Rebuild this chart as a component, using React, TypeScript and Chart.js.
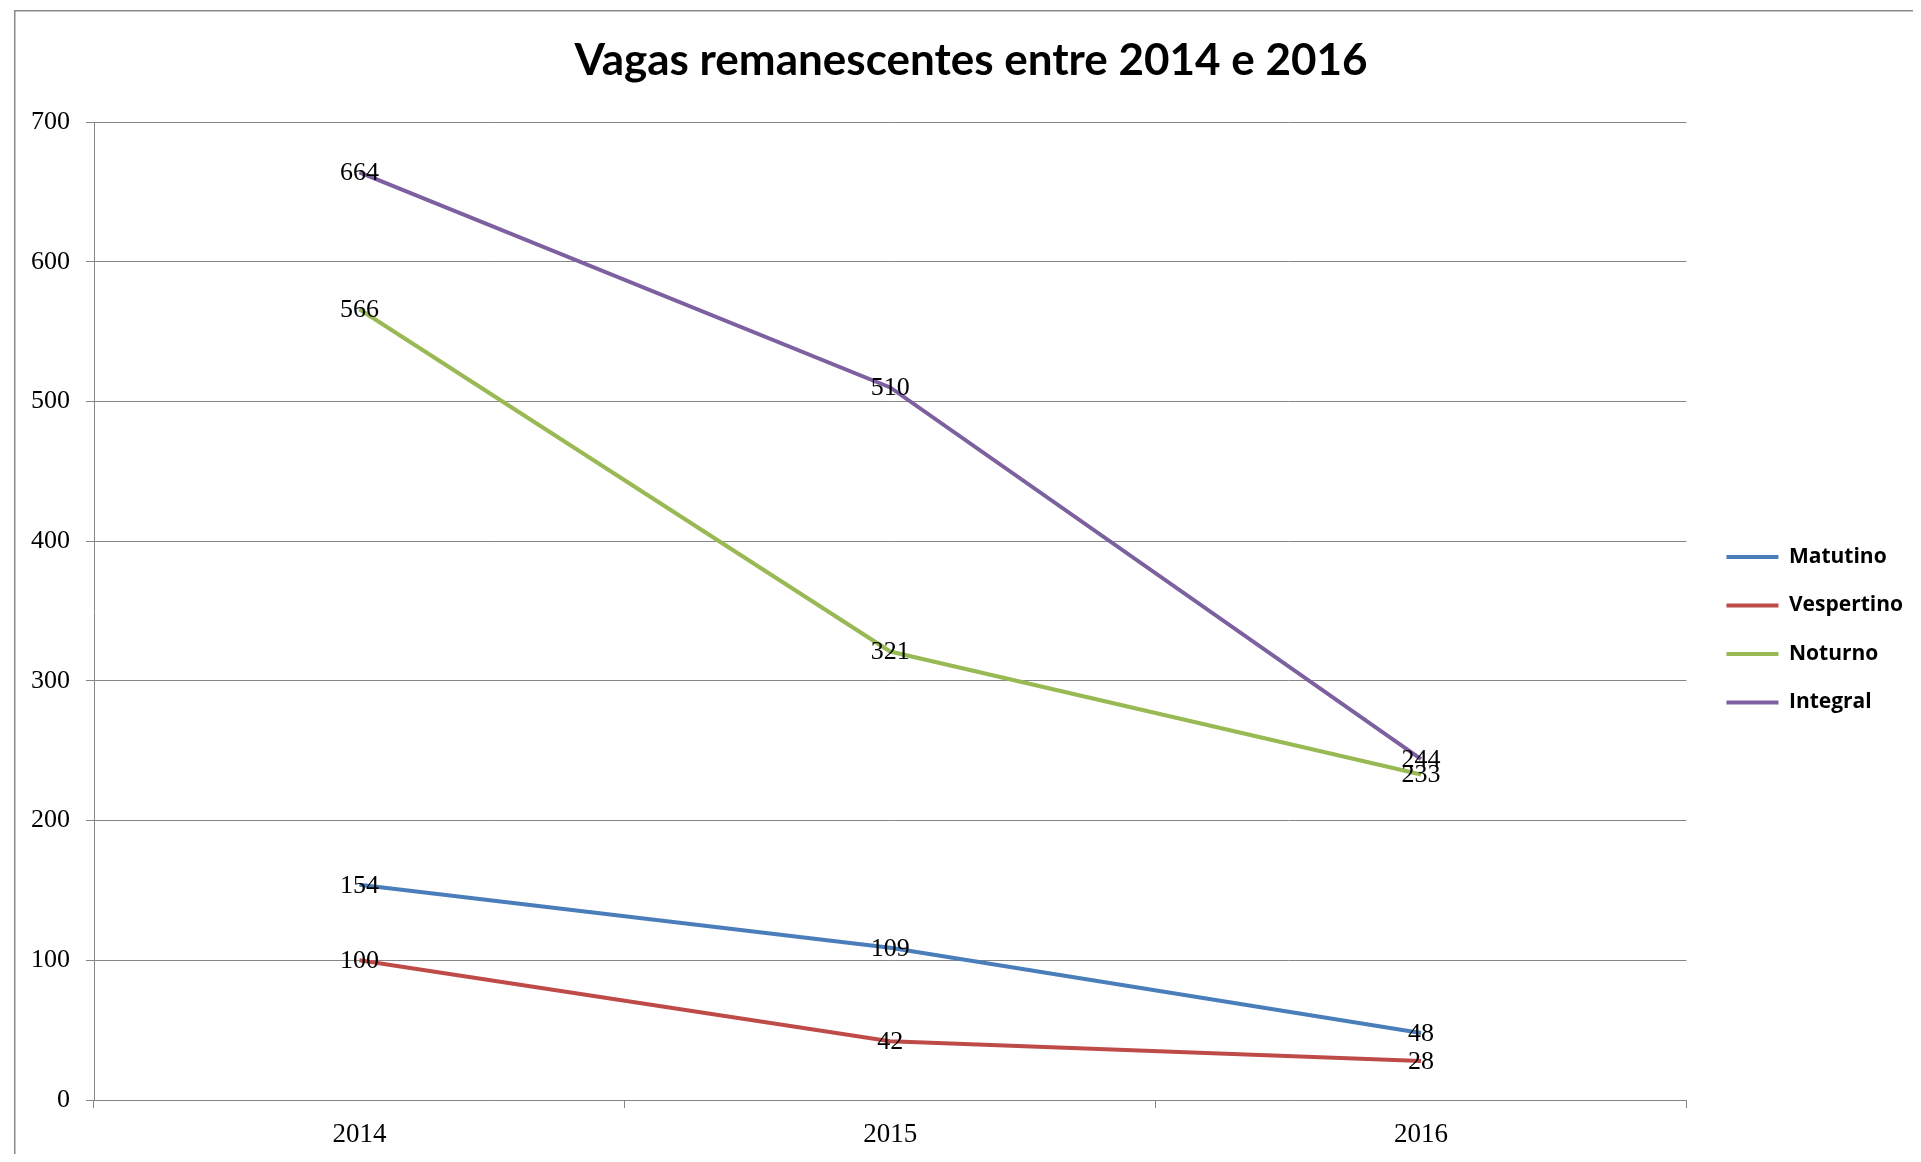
import React, { useEffect, useRef } from "react";
import { Chart, registerables } from "chart.js";

Chart.register(...registerables);

const chartTitle = "Vagas remanescentes entre 2014 e 2016";
const categories = ["2014", "2015", "2016"];
const seriesNames = ["Matutino", "Vespertino", "Noturno", "Integral"];
const matutino = [154, 109, 48];
const vespertino = [100, 42, 28];
const noturno = [566, 321, 233];
const integral = [664, 510, 244];
const seriesColors = ["#4A7EBB", "#BE4B48", "#98B954", "#7D60A0"];
const yMin = 0;
const yMax = 700;
const yStep = 100;

const CANVAS_W = 1905;
const CANVAS_H = 1146;

const framePlugin = {
  id: "frame",
  beforeDraw(chart: any) {
    const ctx = chart.ctx;
    ctx.save();
    ctx.fillStyle = "#ffffff";
    ctx.fillRect(0, 0, chart.width, chart.height);
    ctx.strokeStyle = "#8a8a8a";
    ctx.lineWidth = 1.5;
    ctx.strokeRect(6.75, 2.75, chart.width + 100, chart.height + 100);
    ctx.restore();
  },
};

const dataLabelPlugin = {
  id: "dataLabels",
  afterDatasetsDraw(chart: any) {
    const ctx = chart.ctx;
    ctx.save();
    ctx.font = "26px 'Liberation Serif'";
    ctx.fillStyle = "#000000";
    ctx.textAlign = "center";
    ctx.textBaseline = "middle";
    chart.data.datasets.forEach((ds: any, i: number) => {
      const meta = chart.getDatasetMeta(i);
      meta.data.forEach((pt: any, j: number) => {
        ctx.fillText(String(ds.data[j]), pt.x, pt.y + 1);
      });
    });
    ctx.restore();
  },
};

export default function App() {
  const canvasRef = useRef<HTMLCanvasElement | null>(null);

  useEffect(() => {
    if (!canvasRef.current) return;
    const seriesValues = [matutino, vespertino, noturno, integral];
    const chart = new Chart(canvasRef.current, {
      type: "line",
      data: {
        labels: categories,
        datasets: seriesNames.map((name, i) => ({
          label: name,
          data: seriesValues[i],
          borderColor: seriesColors[i],
          backgroundColor: seriesColors[i],
          borderWidth: 4,
          pointRadius: 0,
          pointHoverRadius: 0,
          tension: 0,
          fill: false,
        })),
      },
      options: {
        responsive: false,
        animation: false,
        layout: { padding: { left: 21, right: 0, top: 0, bottom: 0 } },
        scales: {
          x: {
            type: "category",
            offset: true,
            ticks: {
              padding: 11,
              color: "#000000",
              font: { family: "'Liberation Serif'", size: 27 },
            },
            grid: {
              offset: true,
              drawOnChartArea: false,
              drawTicks: true,
              tickLength: 8,
              color: "#868686",
              lineWidth: 1,
            },
            border: { color: "#868686", width: 1 },
            afterFit: (s: any) => {
              s.height = 54;
            },
          },
          y: {
            min: yMin,
            max: yMax,
            ticks: {
              stepSize: yStep,
              padding: 16,
              color: "#000000",
              font: { family: "'Liberation Serif'", size: 26 },
            },
            grid: {
              color: "#868686",
              lineWidth: 1,
              drawTicks: true,
              tickLength: 8,
            },
            border: { color: "#868686", width: 1 },
            afterFit: (s: any) => {
              s.width = 65;
            },
          },
        },
        plugins: {
          title: {
            display: true,
            text: chartTitle,
            color: "#000000",
            font: { family: "Lato", size: 44, weight: "bold", lineHeight: 1.2 },
            padding: { top: 26.6, bottom: 34.6 },
          },
          legend: {
            position: "right",
            align: "start",
            title: {
              display: true,
              text: " ",
              font: { size: 10, lineHeight: 1.2 },
              padding: { top: 486.5, bottom: 0 },
            },
            labels: {
              usePointStyle: true,
              pointStyle: "line",
              pointStyleWidth: 52,
              padding: 40,
              color: "#000000",
              font: { family: "'Open Sans'", size: 21, weight: "bold", lineHeight: "8.5px" },
              generateLabels: (c: any) =>
                c.data.datasets.map((ds: any, i: number) => ({
                  text: [ds.label],
                  fillStyle: ds.borderColor,
                  strokeStyle: ds.borderColor,
                  fontColor: "#000000",
                  lineWidth: 4,
                  pointStyle: "line",
                  hidden: false,
                  datasetIndex: i,
                })),
            },
          },
          tooltip: { enabled: false },
        },
      },
      plugins: [framePlugin, dataLabelPlugin],
    } as any);
    return () => chart.destroy();
  }, []);

  return (
    <div style={{ width: CANVAS_W, height: CANVAS_H }}>
      <canvas ref={canvasRef} width={CANVAS_W} height={CANVAS_H} style={{ display: "block" }} />
    </div>
  );
}
